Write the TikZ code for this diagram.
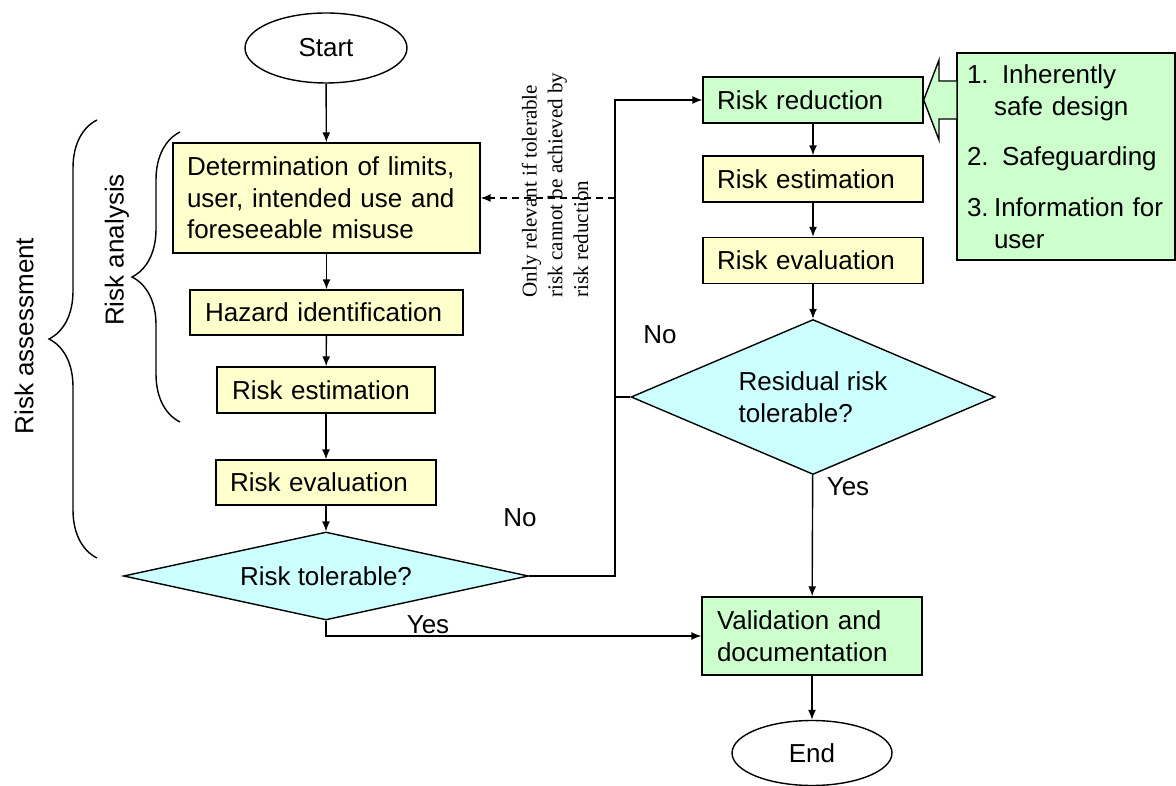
\documentclass[tikz,border=0pt]{standalone}
\usepackage{fontspec}
\setmainfont{Liberation Sans}
\newfontfamily\notefont{Liberation Serif}
\usepackage{tikz}
\usetikzlibrary{shapes.geometric,decorations.pathreplacing,arrows.meta}

\definecolor{boxyellow}{RGB}{255,255,204}
\definecolor{boxgreen}{RGB}{204,255,204}
\definecolor{boxcyan}{RGB}{204,255,255}

\begin{document}
\begin{tikzpicture}[x=0.02cm, y=-0.02cm, line width=0.8pt,
  >={Latex[length=0.2cm,width=0.16cm]},
  font=\fontsize{14.8}{18}\selectfont,
  procbox/.style={draw, fill=boxyellow, align=left, inner xsep=0.28cm, inner ysep=0.05cm},
  actbox/.style={procbox, fill=boxgreen},
  decision/.style={draw, fill=boxcyan, diamond, inner sep=0pt, align=left},
  terminal/.style={draw, ellipse, inner sep=0pt},
  bracket/.style={decorate, decoration={brace, amplitude=0.96cm}}]

\useasboundingbox (0,0) rectangle (1176,786);

\node (start) [terminal, minimum width=3.24cm, minimum height=1.4cm] at (326, 48) {Start};
\node (detbox) [procbox, text width=5.58cm, minimum height=2.2cm] at (326.5, 198)
  {Determination of limits,\\user, intended use and\\foreseeable misuse};
\node (hazbox) [procbox, inner xsep=0.3cm, text width=4.86cm, minimum height=0.9cm] at (326.5, 312.5) {Hazard identification};
\node (estbox) [procbox, inner xsep=0.3cm, text width=3.76cm, minimum height=0.92cm] at (326, 390) {Risk estimation};
\node (evalbox) [procbox, text width=3.84cm, minimum height=0.9cm] at (326, 482.5) {Risk evaluation};
\node (tol) [decision, aspect=4.6, minimum width=8.1cm, minimum height=1.76cm] at (326, 576) {Risk tolerable?};

\node (redbox) [actbox, text width=3.84cm, minimum height=0.92cm] at (813, 100) {Risk reduction};
\node (est2box) [procbox, text width=3.84cm, minimum height=0.92cm] at (813, 179) {Risk estimation};
\node (eval2box) [procbox, text width=3.84cm, minimum height=0.92cm] at (813, 260.5) {Risk evaluation};
\node (resid) [decision, aspect=2.35, minimum width=7.28cm, minimum height=3.1cm] at (813, 397) {Residual risk\\tolerable?};
\node (valbox) [actbox, inner xsep=0.3cm, text width=3.8cm, minimum height=1.56cm] at (812, 636) {Validation and\\documentation};
\node (end) [terminal, minimum width=3.2cm, minimum height=1.3cm] at (812, 753) {End};

\node (listbox) [actbox, inner xsep=0.2cm, text width=3.96cm, minimum height=4.14cm] at (1066, 156.5)
  {\makebox[0.7cm][l]{1.}Inherently\\\hspace*{0.54cm}safe design\\[0.38cm]
   \makebox[0.7cm][l]{2.}Safeguarding\\[0.38cm]
   \makebox[0.54cm][l]{3.}Information for\\\hspace*{0.54cm}user};
\draw [fill=boxgreen] (listbox.west |- 0,81) -- (939, 81) -- (939, 60) -- (redbox.east)
  -- (939, 140) -- (939, 119) -- (listbox.west |- 0,119);

\draw [bracket] (180, 422) -- (180, 132);
\draw [bracket] (97, 558) -- (97, 120);
\node (analysis) [rotate=90] at (117, 250) {Risk analysis};
\node (assessment) [rotate=90] at (24, 336) {Risk assessment};

\node (note) [rotate=90, align=left, inner sep=0pt, font=\notefont\fontsize{12}{14.7}\selectfont] at (555, 185)
  {Only relevant if tolerable\\risk cannot be achieved by\\risk reduction};

\coordinate (bus) at (615, 576);

\draw [->] (start) -- (detbox);
\draw [->] (detbox) -- (hazbox);
\draw [->] (hazbox) -- (estbox);
\draw [->] (estbox) -- (evalbox);
\draw [->] (evalbox) -- (tol);
\draw [->] (tol.east) -- (bus) |- (redbox.west);
\draw [->, dash pattern=on 0.14cm off 0.1cm] (bus |- detbox.east) -- (detbox.east);
\draw [->] (redbox) -- (est2box);
\draw [->] (est2box) -- (eval2box);
\draw [->] (eval2box) -- (resid);
\draw (resid.west) -- (resid.west -| bus);
\draw [->] (resid) -- (valbox);
\draw [->] (tol.south) |- (valbox.west);
\draw [->] (valbox) -- (end);

\node (tolno) at (520, 518) {No};
\node (tolyes) at (428, 625) {Yes};
\node (residno) at (660, 335) {No};
\node (residyes) at (848, 487) {Yes};
\end{tikzpicture}
\end{document}
